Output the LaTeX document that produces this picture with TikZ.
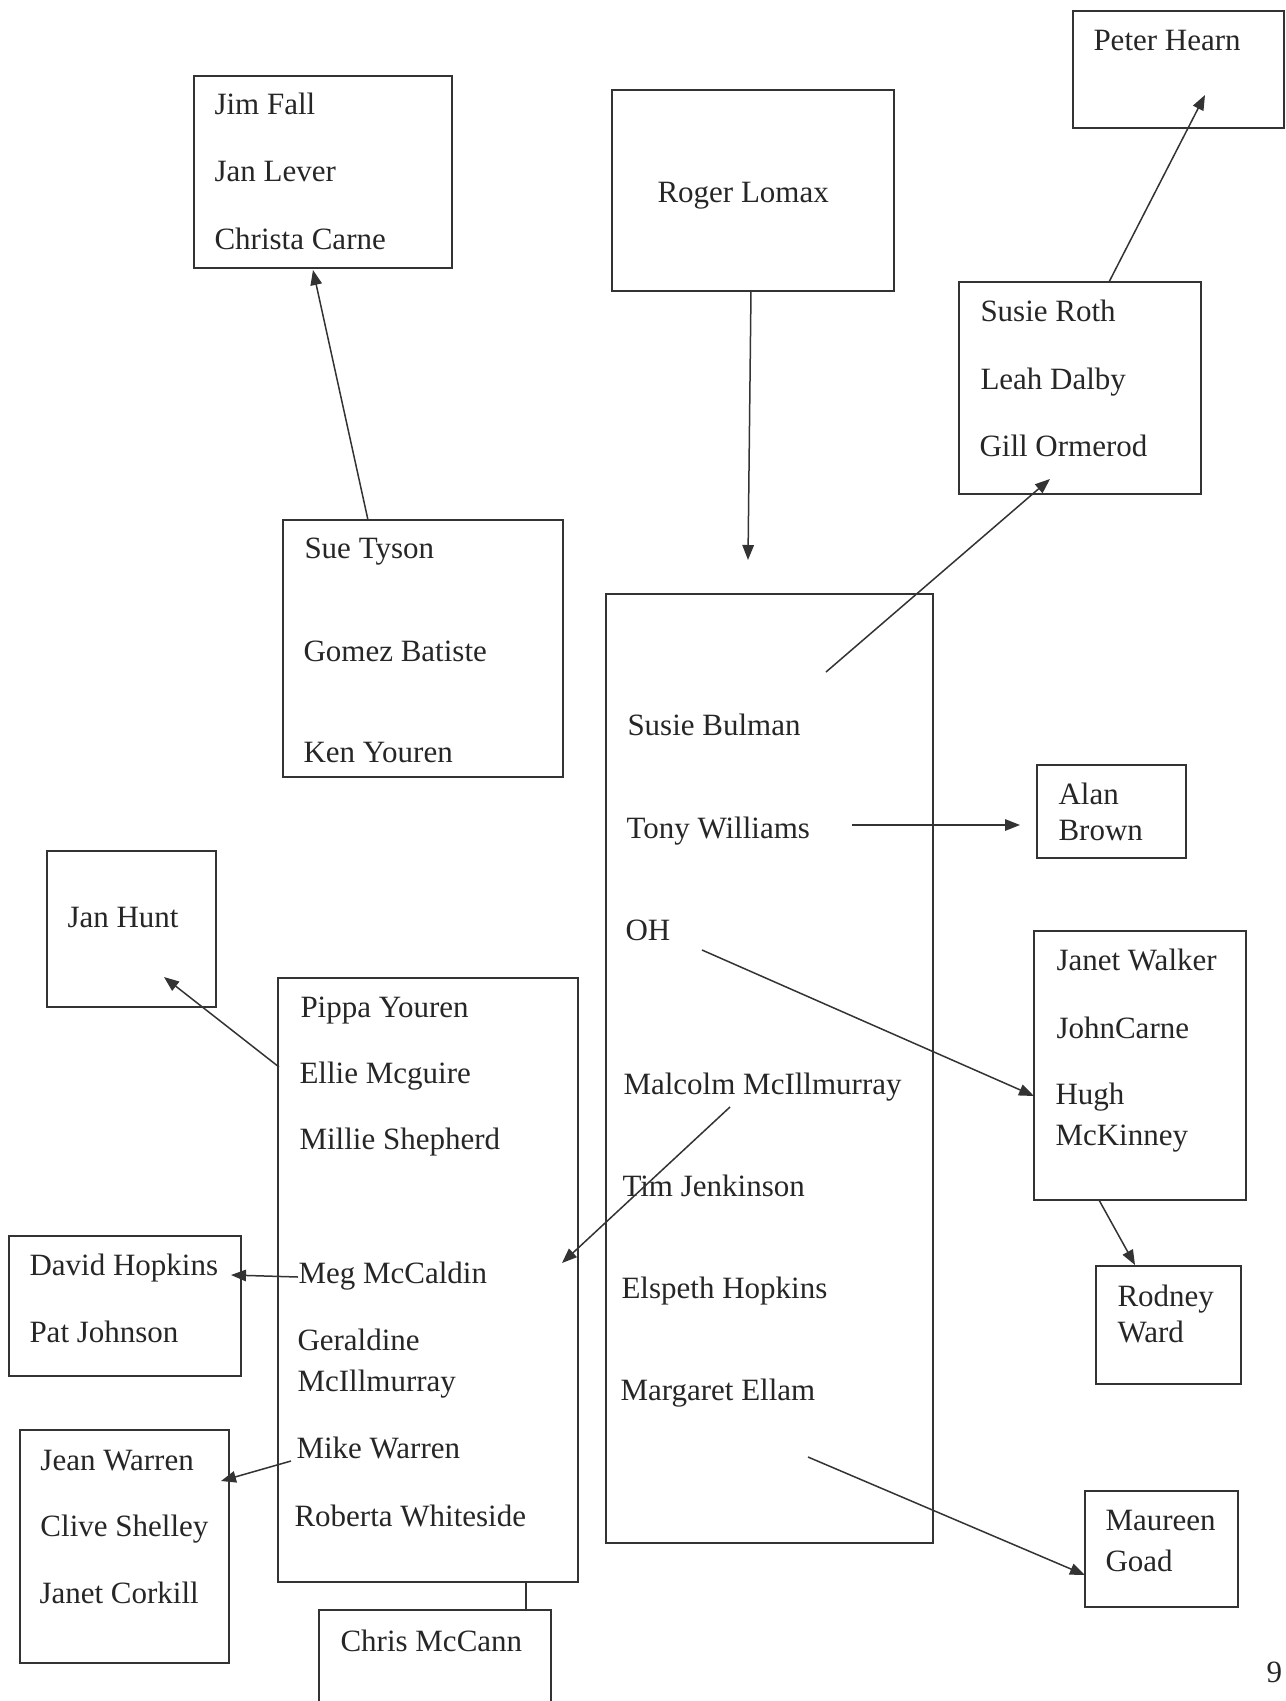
\documentclass[tikz,border=0pt]{standalone}
\usepackage{fontspec}
\setmainfont{Liberation Serif}
\usetikzlibrary{arrows.meta,fit}

\begin{document}
\begin{tikzpicture}[
  x=0.4pt, y=-0.4pt,
  box/.style={draw=black!80, line width=0.7pt, inner sep=0pt},
  who/.style={anchor=west, inner sep=0pt, yshift=-1.6pt, text height=0.7em, text depth=0.2em, font=\fontsize{12.4}{15}\selectfont, text=black!85},
  arr/.style={-{Triangle[length=6pt,width=4.6pt]}, line width=0.6pt, draw=black!80}
]
\clip (0,0) rectangle (1286,1701);

% boxes
\node[box, fit={(194,76) (452,268)}] (jimbox) {};
\node[box, fit={(612,90) (894,291)}] (rogerbox) {};
\node[box, fit={(1073,11) (1284,128)}] (peterbox) {};
\node[box, fit={(959,282) (1201,494)}] (rothbox) {};
\node[box, fit={(283,520) (563,777)}] (tysonbox) {};
\node[box, fit={(606,594) (933,1543)}] (mainbox) {};
\node[box, fit={(1037,765) (1186,858)}] (alanbox) {};
\node[box, fit={(1034,931) (1246,1200)}] (walkerbox) {};
\node[box, fit={(1096,1266) (1241,1384)}] (rodneybox) {};
\node[box, fit={(1085,1491) (1238,1607)}] (goadbox) {};
\node[box, fit={(47,851) (216,1007)}] (huntbox) {};
\node[box, fit={(278,978) (578,1582)}] (pippabox) {};
\node[box, fit={(9,1236) (241,1376)}] (davidbox) {};
\node[box, fit={(20,1430) (229,1663)}] (jeanbox) {};
\node[box, fit={(319,1610) (551,1730)}] (mccannbox) {};

% names
\node[who] (jimfall) at (214,104) {Jim Fall};
\node[who] (janlever) at (214,171) {Jan Lever};
\node[who] (christa) at (214,239) {Christa Carne};
\node[who] (roger) at (657,192) {Roger Lomax};
\node[who] (peter) at (1093,40) {Peter Hearn};
\node[who] (susieroth) at (980,311) {Susie Roth};
\node[who] (leah) at (980,379) {Leah Dalby};
\node[who] (gill) at (979,446) {Gill Ormerod};
\node[who] (suetyson) at (304,548) {Sue Tyson};
\node[who] (gomez) at (303,651) {Gomez Batiste};
\node[who] (ken) at (303,752) {Ken Youren};
\node[who] (bulman) at (627,725) {Susie Bulman};
\node[who] (tony) at (626,828) {Tony Williams};
\node[who] (oh) at (625,930) {OH};
\node[who] (malcolm) at (623,1084) {Malcolm McIllmurray};
\node[who] (tim) at (622,1186) {Tim Jenkinson};
\node[who] (elspeth) at (621,1288) {Elspeth Hopkins};
\node[who] (margaret) at (620,1390) {Margaret Ellam};
\node[who] (alan) at (1058,794) {Alan};
\node[who] (brown) at (1058,830) {Brown};
\node[who] (janet) at (1056,960) {Janet Walker};
\node[who] (john) at (1056,1028) {JohnCarne};
\node[who] (hugh) at (1055,1094) {Hugh};
\node[who] (mckinney) at (1055,1135) {McKinney};
\node[who] (rodney) at (1117,1296) {Rodney};
\node[who] (ward) at (1117,1332) {Ward};
\node[who] (maureen) at (1105,1520) {Maureen};
\node[who] (goad) at (1105,1561) {Goad};
\node[who] (janhunt) at (67,917) {Jan Hunt};
\node[who] (pippa) at (300,1007) {Pippa Youren};
\node[who] (ellie) at (299,1073) {Ellie Mcguire};
\node[who] (millie) at (299,1139) {Millie Shepherd};
\node[who] (meg) at (298,1273) {Meg McCaldin};
\node[who] (geraldine) at (297,1340) {Geraldine};
\node[who] (mcillm) at (297,1381) {McIllmurray};
\node[who] (mike) at (296,1448) {Mike Warren};
\node[who] (roberta) at (294,1516) {Roberta Whiteside};
\node[who] (david) at (29,1265) {David Hopkins};
\node[who] (pat) at (29,1332) {Pat Johnson};
\node[who] (jean) at (40,1460) {Jean Warren};
\node[who] (clive) at (40,1526) {Clive Shelley};
\node[who] (corkill) at (39,1593) {Janet Corkill};
\node[who] (chris) at (340,1641) {Chris McCann};
\node[who] (pageno) at (1266,1672) {9};

% free ends
\coordinate (tysonTop) at (368,520);
\coordinate (jimBot) at (313,270);
\coordinate (rogerBot) at (751,291);
\coordinate (mainIn) at (748,560);
\coordinate (rothTop) at (1109,282);
\coordinate (peterIn) at (1205,95);
\coordinate (bulmanUp) at (826,672);
\coordinate (rothIn) at (1050,479);
\coordinate (tonyEnd) at (852,825);
\coordinate (alanIn) at (1020,825);
\coordinate (ohEnd) at (702,950);
\coordinate (walkerIn) at (1034,1096);
\coordinate (walkerBot) at (1099,1200);
\coordinate (rodneyTop) at (1135,1265);
\coordinate (ellamEnd) at (808,1457);
\coordinate (goadIn) at (1085,1575);
\coordinate (malcolmEnd) at (730,1107);
\coordinate (pippaIn) at (562,1263);
\coordinate (pippaLeft) at (279,1067);
\coordinate (huntIn) at (164,977);
\coordinate (davidIn) at (231,1275);
\coordinate (mikeEnd) at (291,1461);
\coordinate (jeanIn) at (221,1481);
\coordinate (pippaBot) at (526,1582);
\coordinate (mccannTop) at (526,1610);

% connectors
\draw[arr] (tysonTop) -- (jimBot);
\draw[arr] (rogerBot) -- (mainIn);
\draw[arr] (rothTop) -- (peterIn);
\draw[arr] (bulmanUp) -- (rothIn);
\draw[arr] (tonyEnd) -- (alanIn);
\draw[arr] (ohEnd) -- (walkerIn);
\draw[arr] (walkerBot) -- (rodneyTop);
\draw[arr] (ellamEnd) -- (goadIn);
\draw[arr] (malcolmEnd) -- (pippaIn);
\draw[arr] (pippaLeft) -- (huntIn);
\draw[arr] (meg.west) -- (davidIn);
\draw[arr] (mikeEnd) -- (jeanIn);
\draw[line width=0.6pt, draw=black!80] (pippaBot) -- (mccannTop);
\end{tikzpicture}
\end{document}
